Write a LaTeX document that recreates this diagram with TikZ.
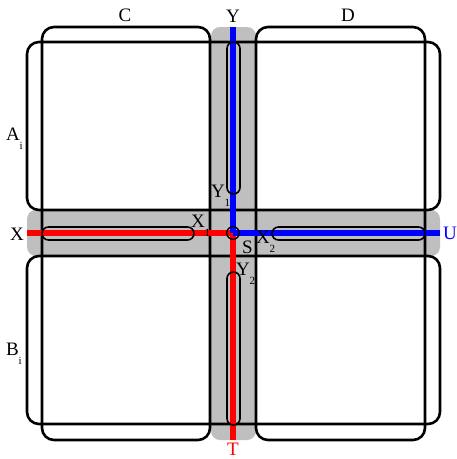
\documentclass[tikz,border=0pt]{standalone}
\usepackage{fontspec}
\setmainfont{Liberation Serif}
\newcommand{\sbs}[1]{\raisebox{-9pt}{\fontsize{11}{11}\selectfont #1}}
\begin{document}
\begin{tikzpicture}[x=1pt,y=-1pt,
  band/.style={fill=black!25,draw=none,rounded corners=9pt},
  region/.style={draw=black,line width=2.6pt,rounded corners=12pt},
  thick line/.style={line width=5.5pt},
  loop/.style={draw=black,line width=1.6pt,rounded corners=6.5pt},
  lbl/.style={inner sep=0pt,outer sep=0pt,font=\fontsize{19}{22}\selectfont}
]
\useasboundingbox (0,0) rectangle (457,459);
% gray cross
\fill[band] (211,27) rectangle (256,440);
\fill[band] (27,210) rectangle (440,256);
% regions
\draw[region] (42,27) rectangle (210,440);
\draw[region] (256,27) rectangle (425,440);
\draw[region] (27,42) rectangle (440,210);
\draw[region] (27,256) rectangle (440,424);
% coordinates
\coordinate (ctr) at (233,233);
\coordinate (top) at (233,27);
\coordinate (bot) at (233,440);
\coordinate (lft) at (27,233);
\coordinate (rgt) at (440,233);
% thick paths
\draw[thick line,red] (lft) -- (ctr);
\draw[thick line,red] (ctr) -- (bot);
\draw[thick line,blue] (top) -- (ctr);
\draw[thick line,blue] (ctr) -- (rgt);
% loops
\draw[loop] (42,227) rectangle (194,240);
\draw[loop] (272,227) rectangle (425,240);
\draw[loop] (227,42) rectangle (240,194);
\draw[loop] (227,272) rectangle (240,425);
\draw[line width=1.3pt] (ctr) circle (6.3pt);
% labels
\node[lbl,anchor=base] (lC) at (125,21) {C};
\node[lbl,anchor=base] (lY) at (233,22) {Y};
\node[lbl,anchor=base] (lD) at (348,21) {D};
\node[lbl,anchor=base west] (lA) at (6,140) {A\sbs{i}};
\node[lbl,anchor=base west] (lB) at (6,355) {B\sbs{i}};
\node[lbl,anchor=base] (lX) at (17,240) {X};
\node[lbl,anchor=base,text=blue] (lU) at (450,239) {U};
\node[lbl,anchor=base,text=red] (lT) at (233,455) {T};
\node[lbl,anchor=base west] (lX1) at (191,227) {X\sbs{1}};
\node[lbl,anchor=base west] (lY1) at (211,197) {Y\sbs{1}};
\node[lbl,anchor=base west] (lX2) at (256,243) {X\sbs{2}};
\node[lbl,anchor=base west] (lY2) at (236,275) {Y\sbs{2}};
\node[lbl,anchor=base west] (lS) at (242,253) {S};
\end{tikzpicture}
\end{document}
